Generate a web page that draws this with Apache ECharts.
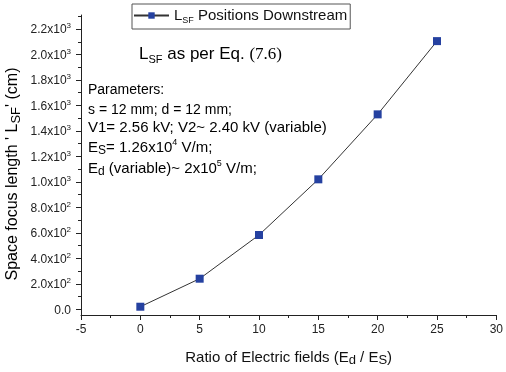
<!DOCTYPE html>
<html>
<head>
<meta charset="utf-8">
<script src="https://cdn.jsdelivr.net/npm/echarts@6/dist/echarts.min.js"></script>
<style>html,body{margin:0;padding:0;background:#fff;}#c{width:506px;height:372px;}</style>
</head>
<body>
<div id="c"></div>
<script>
const ratios = [0, 5, 10, 15, 20, 25];
const lsfValues = [20, 240, 583, 1020, 1530, 2105];
const yMajorTicks = [0, 200, 400, 600, 800, 1000, 1200, 1400, 1600, 1800, 2000, 2200];
const yMinorTicks = [100, 300, 500, 700, 900, 1100, 1300, 1500, 1700, 1900, 2100, 2300];

const FONT = '"Liberation Sans", Arial, sans-serif';
const SERIF = '"Liberation Serif", "Times New Roman", serif';
const chart = echarts.init(document.getElementById('c'));

function yFmt(v) {
  if (v === 0) return '{m|0.0}';
  const e = v >= 1000 ? 3 : 2;
  const m = (v / Math.pow(10, e)).toFixed(1);
  return '{m|' + m + 'x10}{e|' + e + '}';
}

function richSet(F, s, p) {
  const L = F + 4;
  return {
    n: {fontFamily: FONT, fontSize: F, color: '#111', lineHeight: L, verticalAlign: 'middle'},
    sub: {fontFamily: FONT, fontSize: s, color: '#111', lineHeight: s, verticalAlign: 'bottom'},
    sup: {fontFamily: FONT, fontSize: p, color: '#111', lineHeight: p, verticalAlign: 'top'},
    s: {fontFamily: SERIF, fontSize: F, color: '#111', lineHeight: L, verticalAlign: 'middle'}
  };
}
function textEl(x, y, text, rich) {
  return {type: 'text', x: x, y: y, style: {text: text, rich: rich, align: 'left', verticalAlign: 'top'}};
}
const r14 = richSet(14, 12, 9);
const r15 = richSet(15, 12, 9);

chart.setOption({
  animation: false,
  grid: {left: 81, right: 4, top: 15, bottom: 54, containLabel: false},
  legend: {
    left: 132, top: 4, padding: [4, 3, 4, 1],
    borderColor: '#555', borderWidth: 1, borderRadius: 0,
    itemWidth: 35, itemHeight: 8, itemGap: 4,
    textStyle: {
      fontFamily: FONT, fontSize: 15, color: '#111',
      rich: richSet(15, 9, 8)
    },
    formatter: function () { return '{n|L}{sub|SF}{n| Positions Downstream}'; },
    data: ['LSF Positions Downstream']
  },
  xAxis: {
    type: 'value', min: -5, max: 30, interval: 5,
    name: '{n|Ratio of Electric fields (E}{sub|d}{n| / E}{sub|S}{n|)}',
    nameLocation: 'middle', nameGap: 33,
    nameTextStyle: {fontFamily: FONT, fontSize: 15, color: '#111', rich: richSet(15, 13, 9)},
    axisLine: {show: true, onZero: false, lineStyle: {color: '#222', width: 1}},
    axisTick: {show: true, length: 5, lineStyle: {color: '#222'}},
    minorTick: {show: true, splitNumber: 2, length: 3, lineStyle: {color: '#222'}},
    splitLine: {show: false},
    axisLabel: {fontFamily: FONT, fontSize: 12, color: '#222', margin: 9}
  },
  yAxis: [{
    type: 'value', min: -45, max: 2310,
    axisLine: {show: true, onZero: false, lineStyle: {color: '#222', width: 1}},
    axisTick: {show: true, length: 5, customValues: yMajorTicks, lineStyle: {color: '#222'}},
    splitLine: {show: false},
    axisLabel: {
      customValues: yMajorTicks, margin: 10,
      formatter: yFmt,
      rich: {
        m: {fontFamily: FONT, fontSize: 12, color: '#222', lineHeight: 14, verticalAlign: 'bottom'},
        e: {fontFamily: FONT, fontSize: 8, color: '#222', lineHeight: 14, verticalAlign: 'top', padding: [0, 0, 5, 0]}
      }
    }
  }, {
    type: 'value', min: -45, max: 2310, position: 'left',
    axisLine: {show: false, onZero: false},
    axisTick: {show: true, length: 3, customValues: yMinorTicks, lineStyle: {color: '#222'}},
    axisLabel: {show: false},
    splitLine: {show: false}
  }],
  series: [{
    name: 'LSF Positions Downstream',
    type: 'line',
    data: ratios.map((x, i) => [x, lsfValues[i]]),
    symbol: 'rect', symbolSize: 8,
    lineStyle: {color: '#333', width: 1},
    itemStyle: {color: '#2541a0'}
  }],
  graphic: [
    {type: 'text', x: 13, y: 174, rotation: Math.PI / 2, style: {
      text: "{n|Space focus length ' L}{sub|SF}{n|' (cm)}",
      rich: richSet(16, 13, 9), align: 'center', verticalAlign: 'middle'
    }},
    textEl(139, 44, '{n|L}{sub|SF}{n| as per Eq. }{s|(7.6)}', richSet(17, 11, 9)),
    textEl(88, 81, '{n|Parameters:}', r14),
    textEl(88, 101, '{n|s = 12 mm; d = 12 mm;}', r14),
    textEl(88, 118, '{n|V1= 2.56 kV; V2~ 2.40 kV (variable)}', r15),
    textEl(88, 138, '{n|E}{sub|S}{n|= 1.26x10}{sup|4}{n| V/m;}', r15),
    textEl(88, 159, '{n|E}{sub|d}{n| (variable)~ 2x10}{sup|5}{n| V/m;}', r15)
  ]
});
</script>
</body>
</html>
